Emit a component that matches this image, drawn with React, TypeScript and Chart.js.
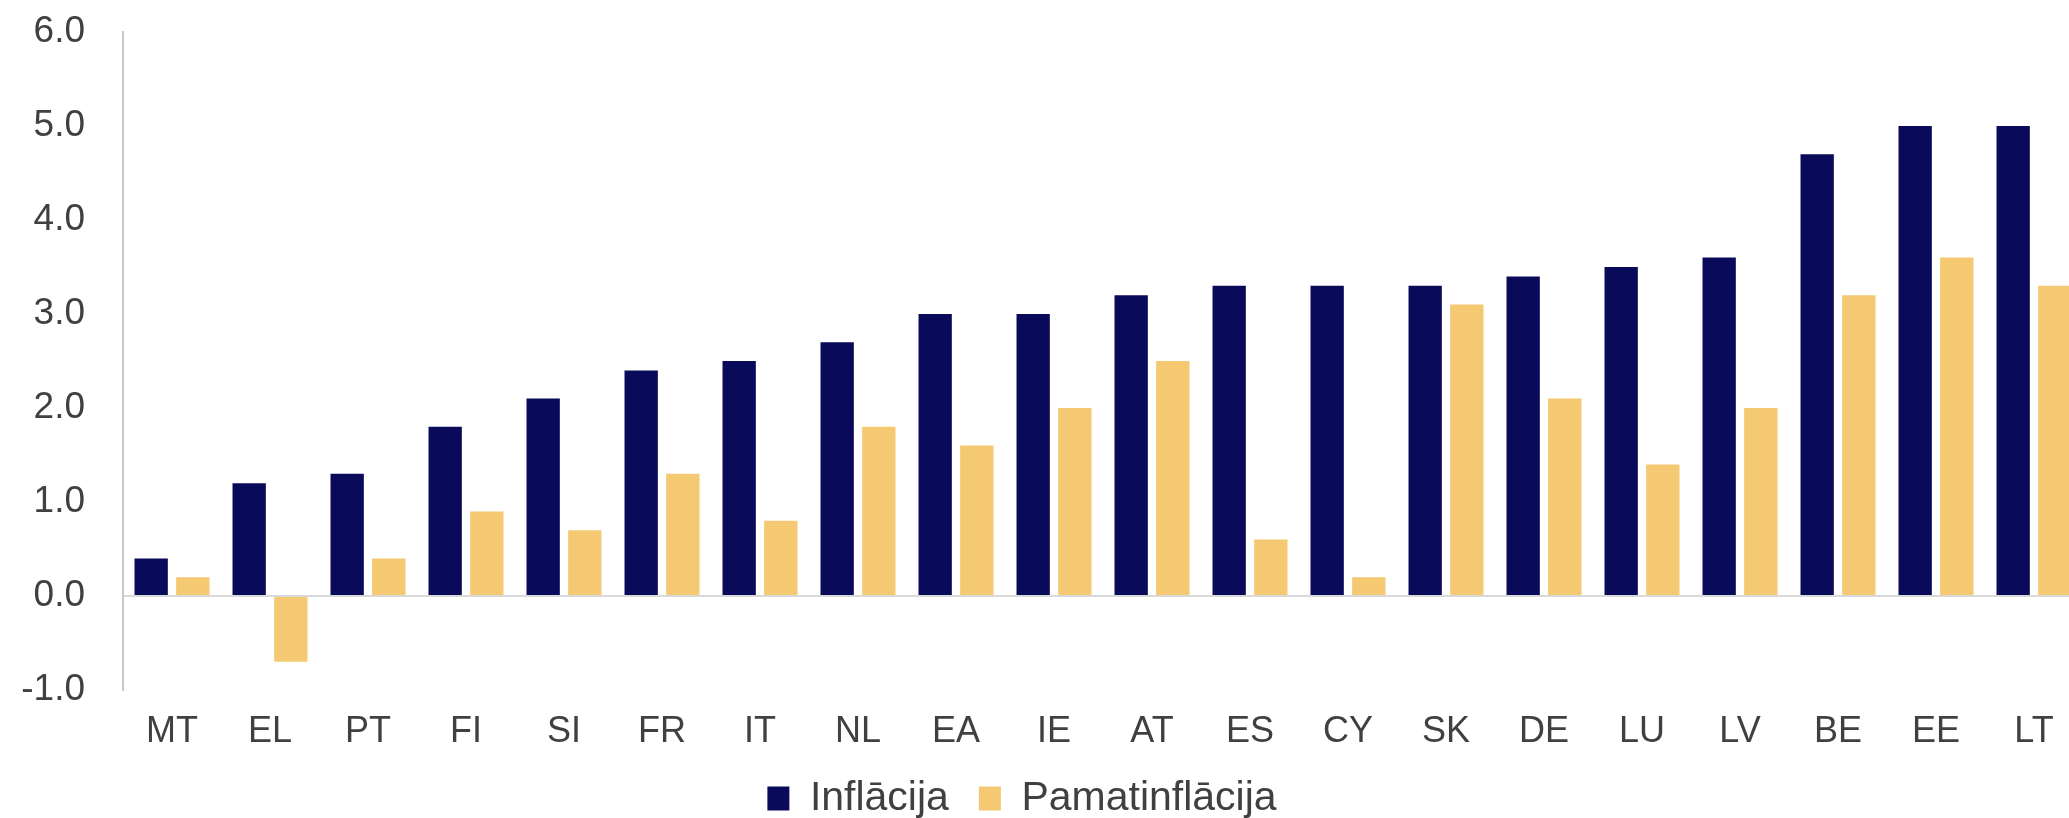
import React, { useEffect, useRef } from "react";
import { Chart, registerables } from "chart.js";

Chart.register(...registerables);

const categories = ["MT", "EL", "PT", "FI", "SI", "FR", "IT", "NL", "EA", "IE", "AT", "ES", "CY", "SK", "DE", "LU", "LV", "BE", "EE", "LT"];
const inflation = [0.4, 1.2, 1.3, 1.8, 2.1, 2.4, 2.5, 2.7, 3.0, 3.0, 3.2, 3.3, 3.3, 3.3, 3.4, 3.5, 3.6, 4.7, 5.0, 5.0];
const coreInflation = [0.2, -0.7, 0.4, 0.9, 0.7, 1.3, 0.8, 1.8, 1.6, 2.0, 2.5, 0.6, 0.2, 3.1, 2.1, 1.4, 2.0, 3.2, 3.6, 3.3];
const seriesLabels = ["Inflācija", "Pamatinflācija"];
const yMin = -1;
const yMax = 6;

const FONT = "'Liberation Sans', Arial, Helvetica, sans-serif";
const TEXT = "#404040";

// The original plot runs slightly past the right edge of the image (last bar clipped).
const extendRight = {
  id: "extendRight",
  afterLayout(chart: any) {
    const x = chart.scales.x;
    const target = chart.width + 14;
    const delta = target - x.right;
    x.right = target;
    x.width += delta;
    chart.chartArea.right = target;
    chart.chartArea.width = chart.chartArea.right - chart.chartArea.left;
    x.configure();
  },
};

export default function App() {
  const ref = useRef<HTMLCanvasElement | null>(null);

  useEffect(() => {
    document.body.style.margin = "0";
    const canvas = ref.current;
    if (!canvas) return;
    const chart = new Chart(canvas, {
      type: "bar",
      data: {
        labels: categories,
        datasets: [
          {
            label: seriesLabels[0],
            data: inflation,
            backgroundColor: "#0a0a5a",
            barPercentage: 0.8,
            categoryPercentage: 0.85,
          },
          {
            label: seriesLabels[1],
            data: coreInflation,
            backgroundColor: "#f5c872",
            barPercentage: 0.8,
            categoryPercentage: 0.85,
          },
        ],
      },
      plugins: [extendRight],
      options: {
        responsive: false,
        animation: false,
        maintainAspectRatio: false,
        layout: { padding: { top: 32, right: 25, left: 0, bottom: -11 } },
        plugins: {
          tooltip: { enabled: false },
          legend: {
            position: "bottom",
            labels: {
              color: TEXT,
              font: { family: FONT, size: 41 },
              boxWidth: 22,
              boxHeight: 24,
              padding: 30,
            },
          },
        },
        scales: {
          x: {
            afterFit: (scale: any) => {
              scale.height = 58;
            },
            grid: { display: false, drawTicks: false },
            border: { display: false },
            ticks: {
              color: TEXT,
              font: { family: FONT, size: 36 },
              padding: 20,
              maxRotation: 0,
              autoSkip: false,
            },
          },
          y: {
            min: yMin,
            max: yMax,
            afterFit: (scale: any) => {
              scale.width = 123;
            },
            grid: {
              drawTicks: true,
              tickLength: 35,
              tickColor: "rgba(0,0,0,0)",
              color: (ctx: any) => (ctx.tick && ctx.tick.value === 0 ? "#d9d9d9" : "rgba(0,0,0,0)"),
              lineWidth: 2,
            },
            border: { display: true, color: "#c8c8c8", width: 2 },
            ticks: {
              stepSize: 1,
              color: TEXT,
              font: { family: FONT, size: 37 },
              padding: 3,
              callback: (v: any) => Number(v).toFixed(1),
            },
          },
        },
      },
    });
    return () => chart.destroy();
  }, []);

  return <canvas ref={ref} width={2069} height={818} style={{ display: "block" }} />;
}
